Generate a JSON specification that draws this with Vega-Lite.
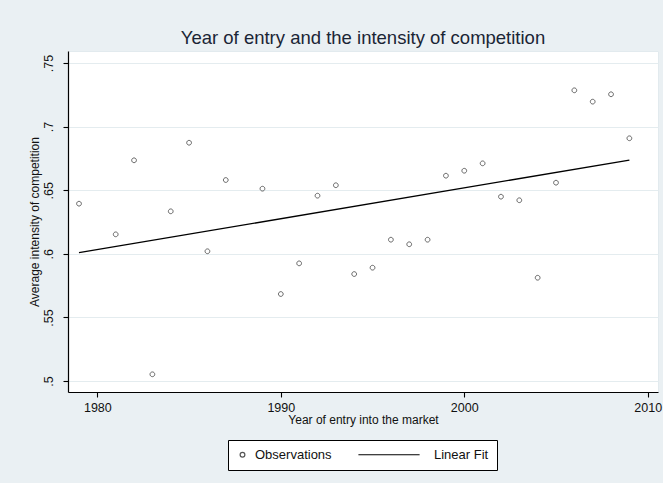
{
  "$schema": "https://vega.github.io/schema/vega-lite/v6.json",
  "autosize": "none",
  "width": 590,
  "height": 341,
  "padding": {"left": 68, "top": 51, "right": 5, "bottom": 91},
  "background": "#eaf0f3",
  "title": {
    "text": "Year of entry and the intensity of competition",
    "font": "Liberation Sans",
    "fontSize": 18.5,
    "fontWeight": "normal",
    "color": "#1a2535",
    "anchor": "middle",
    "offset": 4
  },
  "config": {
    "view": {"fill": "white", "stroke": "#e2eaee", "strokeWidth": 1},
    "axis": {
      "labelFont": "Liberation Sans",
      "titleFont": "Liberation Sans",
      "labelColor": "#111",
      "titleColor": "#111",
      "labelFontSize": 12.5,
      "titleFontSize": 12,
      "titleFontWeight": "normal",
      "domainColor": "#000",
      "domainWidth": 1.2,
      "tickColor": "#000",
      "tickSize": 5,
      "tickWidth": 1.1
    }
  },
  "data": {
    "values": [
      {"year": 1979, "value": 0.6394, "series": "Observations"},
      {"year": 1981, "value": 0.6153, "series": "Observations"},
      {"year": 1982, "value": 0.6735, "series": "Observations"},
      {"year": 1983, "value": 0.5053, "series": "Observations"},
      {"year": 1984, "value": 0.6334, "series": "Observations"},
      {"year": 1985, "value": 0.6873, "series": "Observations"},
      {"year": 1986, "value": 0.602, "series": "Observations"},
      {"year": 1987, "value": 0.658, "series": "Observations"},
      {"year": 1989, "value": 0.6512, "series": "Observations"},
      {"year": 1990, "value": 0.5684, "series": "Observations"},
      {"year": 1991, "value": 0.5925, "series": "Observations"},
      {"year": 1992, "value": 0.6457, "series": "Observations"},
      {"year": 1993, "value": 0.6539, "series": "Observations"},
      {"year": 1994, "value": 0.5841, "series": "Observations"},
      {"year": 1995, "value": 0.5891, "series": "Observations"},
      {"year": 1996, "value": 0.6111, "series": "Observations"},
      {"year": 1997, "value": 0.6075, "series": "Observations"},
      {"year": 1998, "value": 0.6111, "series": "Observations"},
      {"year": 1999, "value": 0.6614, "series": "Observations"},
      {"year": 2000, "value": 0.6653, "series": "Observations"},
      {"year": 2001, "value": 0.6711, "series": "Observations"},
      {"year": 2002, "value": 0.6449, "series": "Observations"},
      {"year": 2003, "value": 0.6421, "series": "Observations"},
      {"year": 2004, "value": 0.5812, "series": "Observations"},
      {"year": 2005, "value": 0.6559, "series": "Observations"},
      {"year": 2006, "value": 0.7285, "series": "Observations"},
      {"year": 2007, "value": 0.7196, "series": "Observations"},
      {"year": 2008, "value": 0.7254, "series": "Observations"},
      {"year": 2009, "value": 0.6908, "series": "Observations"},
      {"year": 1979, "value": 0.6009, "series": "Linear Fit"},
      {"year": 2009, "value": 0.6737, "series": "Linear Fit"}
    ]
  },
  "encoding": {
    "x": {
      "field": "year",
      "type": "quantitative",
      "scale": {"domain": [1978.4, 2010.56], "nice": false, "zero": false},
      "axis": {
        "values": [1980, 1990, 2000, 2010],
        "format": "d",
        "grid": false,
        "title": "Year of entry into the market",
        "labelPadding": 4,
        "titlePadding": 1
      }
    },
    "y": {
      "field": "value",
      "type": "quantitative",
      "scale": {"domain": [0.4914, 0.7594], "nice": false, "zero": false},
      "axis": {
        "values": [0.5, 0.55, 0.6, 0.65, 0.7, 0.75],
        "labelExpr": "replace(format(datum.value, '.2~f'), '0.', '.')",
        "labelAngle": -90,
        "labelPadding": 8,
        "grid": true,
        "gridColor": "#e4ecef",
        "gridWidth": 1.2,
        "title": "Average intensity of competition",
        "titlePadding": 1
      }
    }
  },
  "layer": [
    {
      "transform": [{"filter": "datum.series === 'Linear Fit'"}],
      "mark": {"type": "line", "color": "#000", "strokeWidth": 1.3},
      "encoding": {}
    },
    {
      "transform": [{"filter": "datum.series === 'Observations'"}],
      "mark": {"type": "point", "filled": false, "size": 90, "strokeWidth": 0.9, "opacity": 1},
      "encoding": {
        "shape": {
          "field": "series",
          "type": "nominal",
          "scale": {
            "domain": ["Observations", "Linear Fit"],
            "range": ["M-0.5,0A0.5,0.5 0 1,1 0.5,0A0.5,0.5 0 1,1 -0.5,0Z", "M-13.3,0H-0.4"]
          },
          "legend": {
            "title": null,
            "orient": "none",
            "legendX": 160,
            "legendY": 389,
            "direction": "horizontal",
            "columns": 2,
            "fillColor": "white",
            "strokeColor": "#000",
            "padding": 8,
            "symbolSize": 90,
            "symbolStrokeWidth": 1.2,
            "labelFont": "Liberation Sans",
            "labelFontSize": 13,
            "labelColor": "#111",
            "labelOffset": 6,
            "columnPadding": 24
          }
        },
        "stroke": {
          "field": "series",
          "type": "nominal",
          "scale": {"domain": ["Observations", "Linear Fit"], "range": ["#555", "#000"]}
        }
      }
    }
  ]
}
